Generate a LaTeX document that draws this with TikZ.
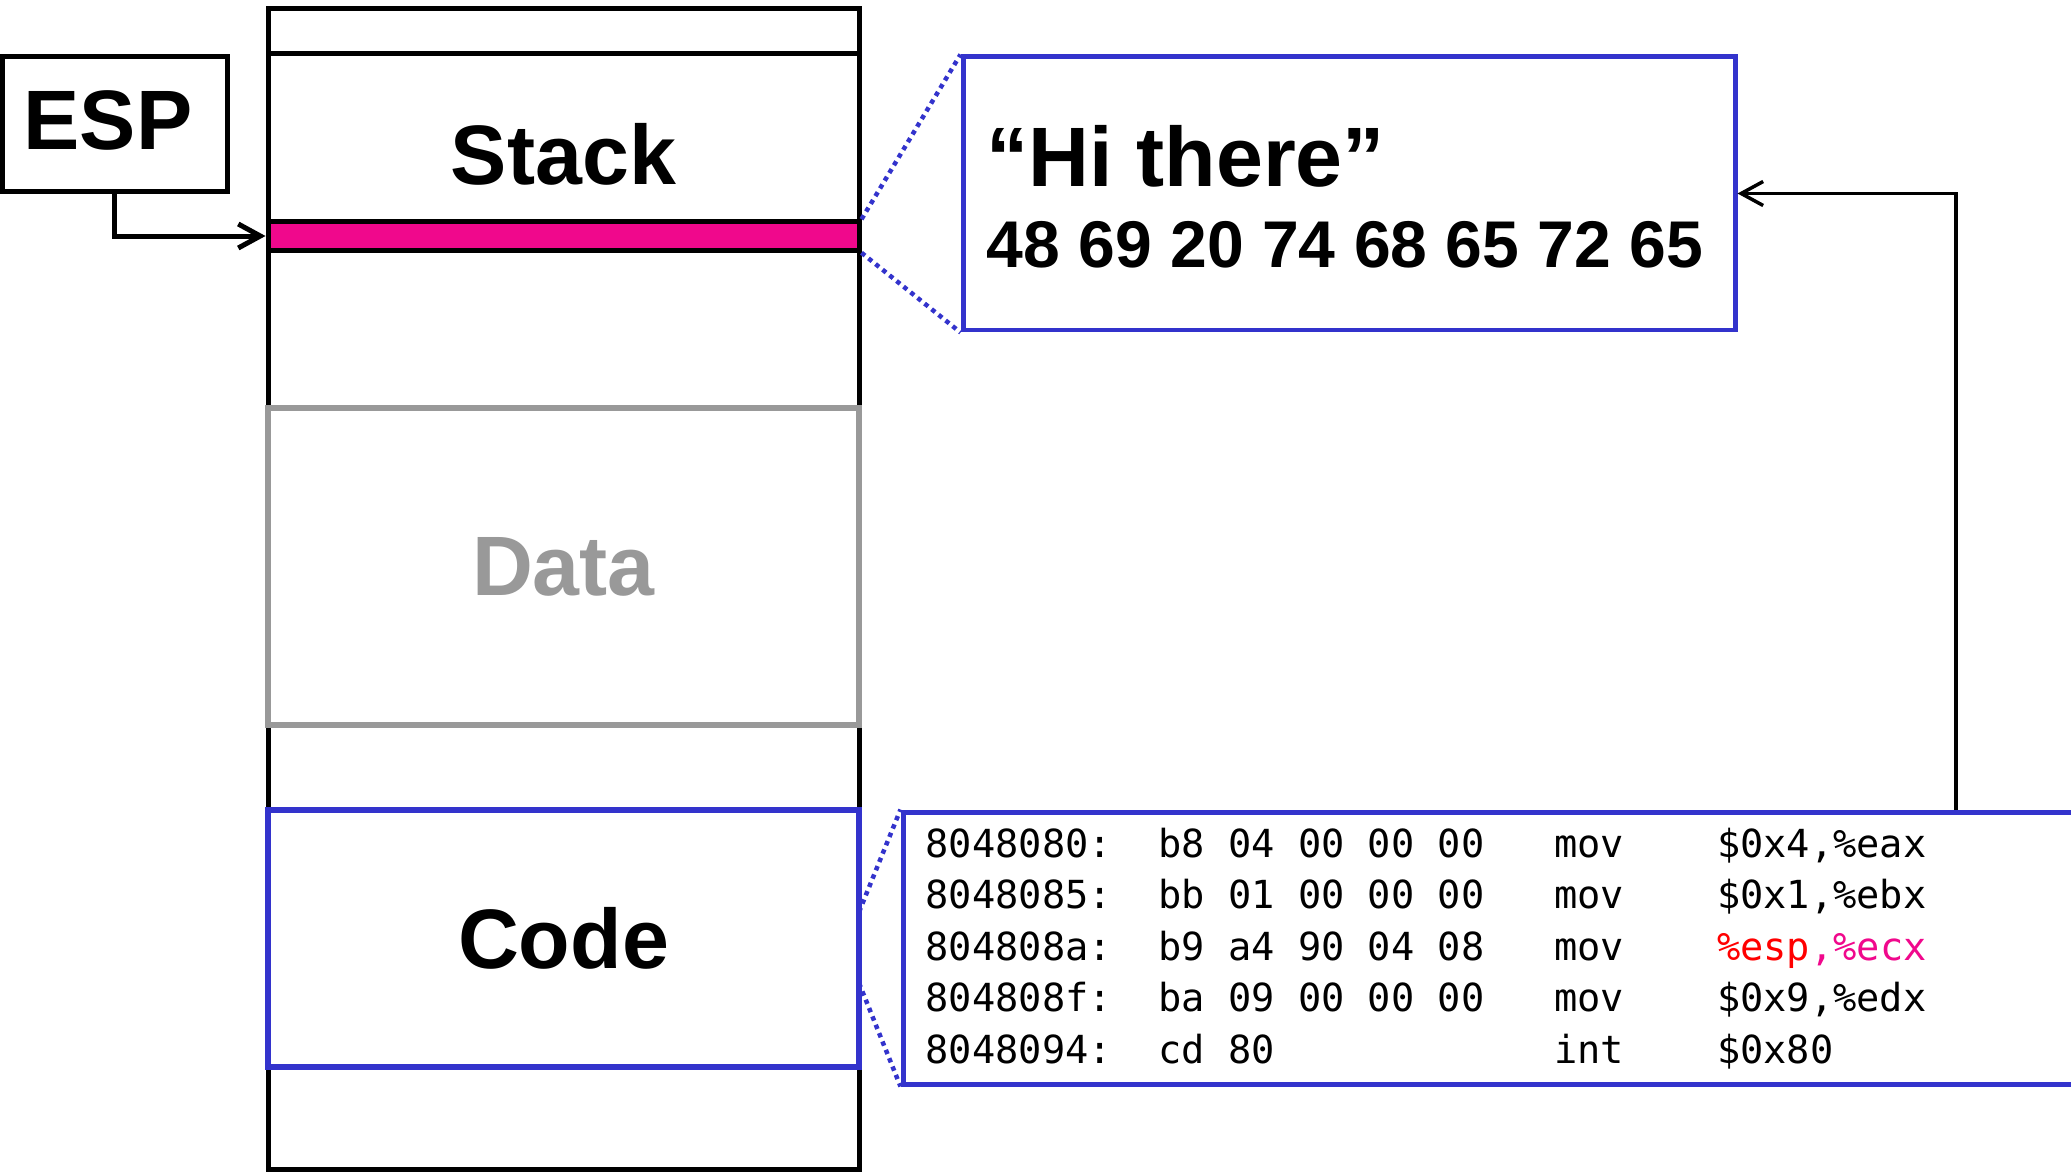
\documentclass[tikz,border=0pt]{standalone}
\usepackage{fontspec}
\setmainfont{Liberation Sans}
\setmonofont{DejaVu Sans Mono}
\usetikzlibrary{arrows.meta}
\definecolor{zoomblue}{RGB}{51,51,204}
\definecolor{slotpink}{RGB}{240,8,140}
\definecolor{datagray}{RGB}{153,153,153}
\definecolor{espred}{RGB}{255,0,0}
\tikzset{
    region/.style={draw, minimum width=59.1mm, inner sep=0pt, font=\fontsize{24}{28}\selectfont\bfseries},
    bigtext/.style={anchor=base, inner sep=0pt, font=\fontsize{24}{28}\selectfont\bfseries},
    zoomline/.style={zoomblue, line width=0.45mm, dash pattern=on 0.45mm off 0.45mm},
    asm/.style={anchor=base west, inner sep=0pt, font=\fontsize{11}{13}\selectfont\ttfamily},
    pointer/.style={-{Straight Barb[length=2.2mm, width=2.4mm]}},
}
\begin{document}
\begin{tikzpicture}[x=0.1mm, y=-0.1mm]
        \clip (0,0) rectangle (2071,1174);
        % memory column
        \draw[line width=0.5mm] (268,9) rectangle (859,1169);
        \draw[line width=0.5mm] (268,54) -- (859,54);
        \node[bigtext] (stacklabel) at (563.5,185) {Stack};
        \node[region, fill=slotpink, line width=0.5mm, minimum height=2.85mm] (slot) at (563.5,236) {};
        \node[region, draw=datagray, text=datagray, line width=0.65mm, minimum height=31.7mm] (data) at (563.5,566.5) {Data};
        \node[region, draw=zoomblue, line width=0.65mm, minimum height=25.7mm] (codebox) at (563.5,938.5) {Code};
        % stack pointer
        \node[draw, line width=0.5mm, minimum width=22.5mm, minimum height=13.5mm] (esp) at (114.5,124.5) {};
        \node[bigtext] (esplabel) at (108,150) {ESP};
        \draw[pointer, line width=0.5mm] (esp.south) |- (slot.west);
        % string on the stack
        \node[draw=zoomblue, line width=0.5mm, minimum width=77.2mm, minimum height=27.3mm] (hi) at (1349,193.5) {};
        \node[bigtext, anchor=base west] (hitext) at (986,187) {``Hi there''};
        \node[anchor=base west, inner sep=0pt, font=\fontsize{18.8}{22}\selectfont\bfseries] (hexbytes) at (986,267) {48 69 20 74 68 65 72 65};
        \draw[zoomline] (slot.north east) -- (hi.north west);
        \draw[zoomline] (slot.south east) -- (hi.south west);
        % disassembly
        \node[draw=zoomblue, line width=0.5mm, minimum width=119mm, minimum height=27.2mm] (listing) at (1498,948) {};
        \coordinate (codetop) at (859,912);
        \coordinate (codebot) at (859,983);
        \draw[zoomline] (codetop) -- (listing.north west);
        \draw[zoomline] (codebot) -- (listing.south west);
        \node[asm] (asm1) at (925,857) {8048080:~~b8 04 00 00 00~~~mov~~~~\$0x4,\%eax};
        \node[asm] (asm2) at (925,908) {8048085:~~bb 01 00 00 00~~~mov~~~~\$0x1,\%ebx};
        \node[asm] (asm3) at (925,960) {804808a:~~b9 a4 90 04 08~~~mov~~~~{\color{espred}\%esp}{\color{slotpink},\%ecx}};
        \node[asm] (asm4) at (925,1011) {804808f:~~ba 09 00 00 00~~~mov~~~~\$0x9,\%edx};
        \node[asm] (asm5) at (925,1063) {8048094:~~cd 80~~~~~~~~~~~~int~~~~\$0x80};
        \coordinate (fetch) at (1956,810);
        \draw[pointer, line width=0.35mm] (fetch) |- (hi.east);
    \end{tikzpicture}
\end{document}
